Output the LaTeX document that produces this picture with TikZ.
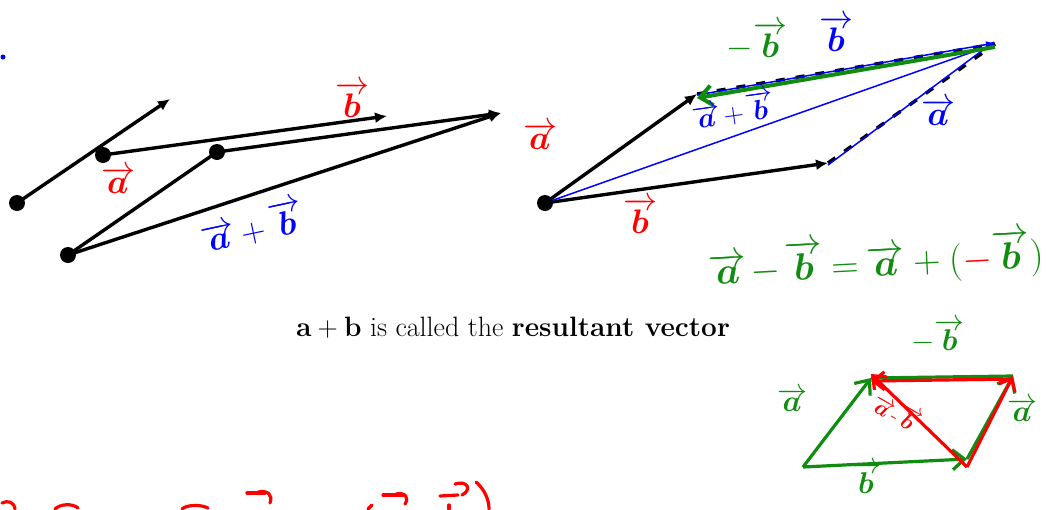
\RequirePackage{fix-cm}
\documentclass[tikz,border=0pt]{standalone}
\usepackage{bm}
\usetikzlibrary{arrows.meta}
\definecolor{hgreen}{RGB}{16,140,16}
\definecolor{hred}{RGB}{255,0,0}
\definecolor{hblue}{RGB}{0,0,255}
\tikzset{
  vecarrow/.style={line width=3.4pt,-{Latex[length=12pt,width=11pt]}},
  vecline/.style={line width=3.4pt},
  bigdot/.style={circle,fill=black,inner sep=0pt,minimum size=16pt},
  thinblue/.style={hblue,line width=1.5pt,-{Latex[length=9pt,width=7pt]}},
  dashblack/.style={black,line width=3.4pt,dash pattern=on 9pt off 11pt},
  greenarrow/.style={hgreen,line width=4pt,-{Straight Barb[length=12pt,width=20pt]}},
  redarrow/.style={hred,line width=3.6pt,-{Straight Barb[length=11pt,width=18pt]}},
  hand/.style={font=\fontsize{34}{34}\selectfont,inner sep=1pt},
  redstroke/.style={hred,line width=3.2pt,line cap=round}
}
\newcommand{\hv}[1]{\overrightarrow{\bm{#1}}}
\begin{document}
\begin{tikzpicture}[x=1pt,y=-1pt]
\useasboundingbox (0,0) rectangle (1047,509);
\clip (0,0) rectangle (1047,509);

% stray blue dot
\fill[hblue] (3,57) circle (2.5pt);

% ---------- left diagram ----------
\coordinate (L1) at (17,203);
\coordinate (L1t) at (170,99);
\coordinate (L2) at (103,155);
\coordinate (L2t) at (387,116);
\coordinate (L3) at (217,152);
\coordinate (L3t) at (501,113);
\coordinate (L4) at (68,255);
\draw[vecarrow] (L1) -- (L1t);
\draw[vecarrow] (L2) -- (L2t);
\draw[vecarrow] (L3) -- (L3t);
\draw[vecline] (L4) -- (L3);
\draw[vecarrow] (L4) -- (L3t);
\node[bigdot] (d1) at (L1) {};
\node[bigdot] (d2) at (L2) {};
\node[bigdot] (d3) at (L3) {};
\node[bigdot] (d4) at (L4) {};
\node[hand,hred] (la) at (118,180) {$\hv{a}$};
\node[hand,hred] (lb) at (352,100) {$\hv{b}$};
\node[hand,hblue,rotate=12] (lab) at (252,226) {$\hv{a}\mskip3mu{+}\mskip3mu\hv{b}$};

% ---------- right top diagram ----------
\coordinate (O) at (545,203);
\coordinate (A) at (697,94);
\coordinate (B) at (828,163);
\coordinate (C) at (995,44);
\draw[dashblack] (A) -- (C);
\draw[dashblack] (B) -- (C);
\draw[vecarrow] (O) -- (A);
\draw[vecarrow] (O) -- (B);
\draw[thinblue] (O) -- (C);
\draw[thinblue] ([yshift=-1pt]A) -- ([yshift=1pt]C);
\draw[thinblue] ([yshift=-2pt]B) -- ([yshift=3pt]C);
\draw[greenarrow] ([yshift=-3pt]C) -- ([yshift=-4pt]A);
\node[bigdot] (dO) at (O) {};
\node[hand,hred] (ra) at (540,136) {$\hv{a}$};
\node[hand,hred] (rb) at (640,216) {$\hv{b}$};
\node[hand,hgreen] (rmb) at (757,41) {$-\hv{b}$};
\node[hand,hblue] (rbb) at (836,34) {$\hv{b}$};
\node[hand,hblue,rotate=8,font=\fontsize{28}{28}\selectfont] (rab) at (733,110) {$\hv{a}\mskip2mu{+}\mskip2mu\hv{b}$};
\node[hand,hblue] (raa) at (938,112) {$\hv{a}$};

% ---------- green formula ----------
\node[hand,hgreen,rotate=3,font=\fontsize{38}{38}\selectfont] (eq) at (876,261)
  {$\hv{a}\mskip2mu{-}\mskip2mu\hv{b}\mskip4mu{=}\mskip4mu\hv{a}\mskip4mu{+}\mskip4mu(\textcolor{hred}{-}\hv{b})$};

% ---------- caption ----------
\node (cap) at (513,328) {\fontsize{28}{32}\selectfont $\mathbf{a}+\mathbf{b}$ is called the \textbf{resultant vector}};

% ---------- bottom right diagram ----------
\coordinate (P) at (803,467);
\coordinate (Q) at (967,459);
\coordinate (R) at (871,378);
\coordinate (S) at (1013,376);
\draw[greenarrow,line width=3.2pt] (P) -- (R);
\draw[greenarrow,line width=3.2pt] (P) -- (Q);
\draw[greenarrow,line width=3.2pt] (Q) -- (S);
\draw[hgreen,line width=3.2pt] (S) -- (R);
\draw[redarrow,line width=3.2pt] ([yshift=-3pt]S) -- ([yshift=-3pt]R);
\draw[redarrow,line width=3.2pt] ([yshift=-8pt]Q) -- (S);
\draw[redarrow,line width=3.2pt] ([yshift=-8pt]Q) -- ([yshift=4pt]R);
\node[hand,hgreen,font=\fontsize{30}{30}\selectfont] (bmb) at (938,336) {$-\hv{b}$};
\node[hand,hgreen,font=\fontsize{30}{30}\selectfont] (ba1) at (792,400) {$\hv{a}$};
\node[hand,hgreen,font=\fontsize{30}{30}\selectfont] (ba2) at (1022,410) {$\hv{a}$};
\node[hand,hgreen,font=\fontsize{30}{30}\selectfont] (bb) at (866,478) {$\hv{b}$};
\node[hand,hred,rotate=-30,font=\fontsize{22}{22}\selectfont] (bab) at (897,412) {$\hv{a}\mbox{-}\hv{b}$};

% ---------- bottom red strokes (cut off) ----------
\draw[redstroke] (2,503) .. controls (8,500) and (14,502) .. (15,509);
\draw[redstroke] (55,509) .. controls (60,504) and (72,503) .. (78,508);
\draw[redstroke] (182,509) .. controls (186,505) and (200,504) .. (208,508);
\draw[redstroke] (247,493) -- (265,493);
\draw[redstroke] (258,492) .. controls (268,490) and (273,495) .. (270,503);
\draw[redstroke] (368,509) -- (372,505);
\draw[redstroke] (383,495) -- (403,495);
\draw[redstroke] (396,494) .. controls (406,492) and (409,498) .. (405,504);
\draw[redstroke] (440,496) -- (458,495);
\draw[redstroke] (455,484) .. controls (468,480) and (472,490) .. (462,495);
\draw[redstroke] (449,505) -- (449,509);
\draw[redstroke] (476,482) .. controls (485,490) and (489,500) .. (489,509);
\end{tikzpicture}
\end{document}
